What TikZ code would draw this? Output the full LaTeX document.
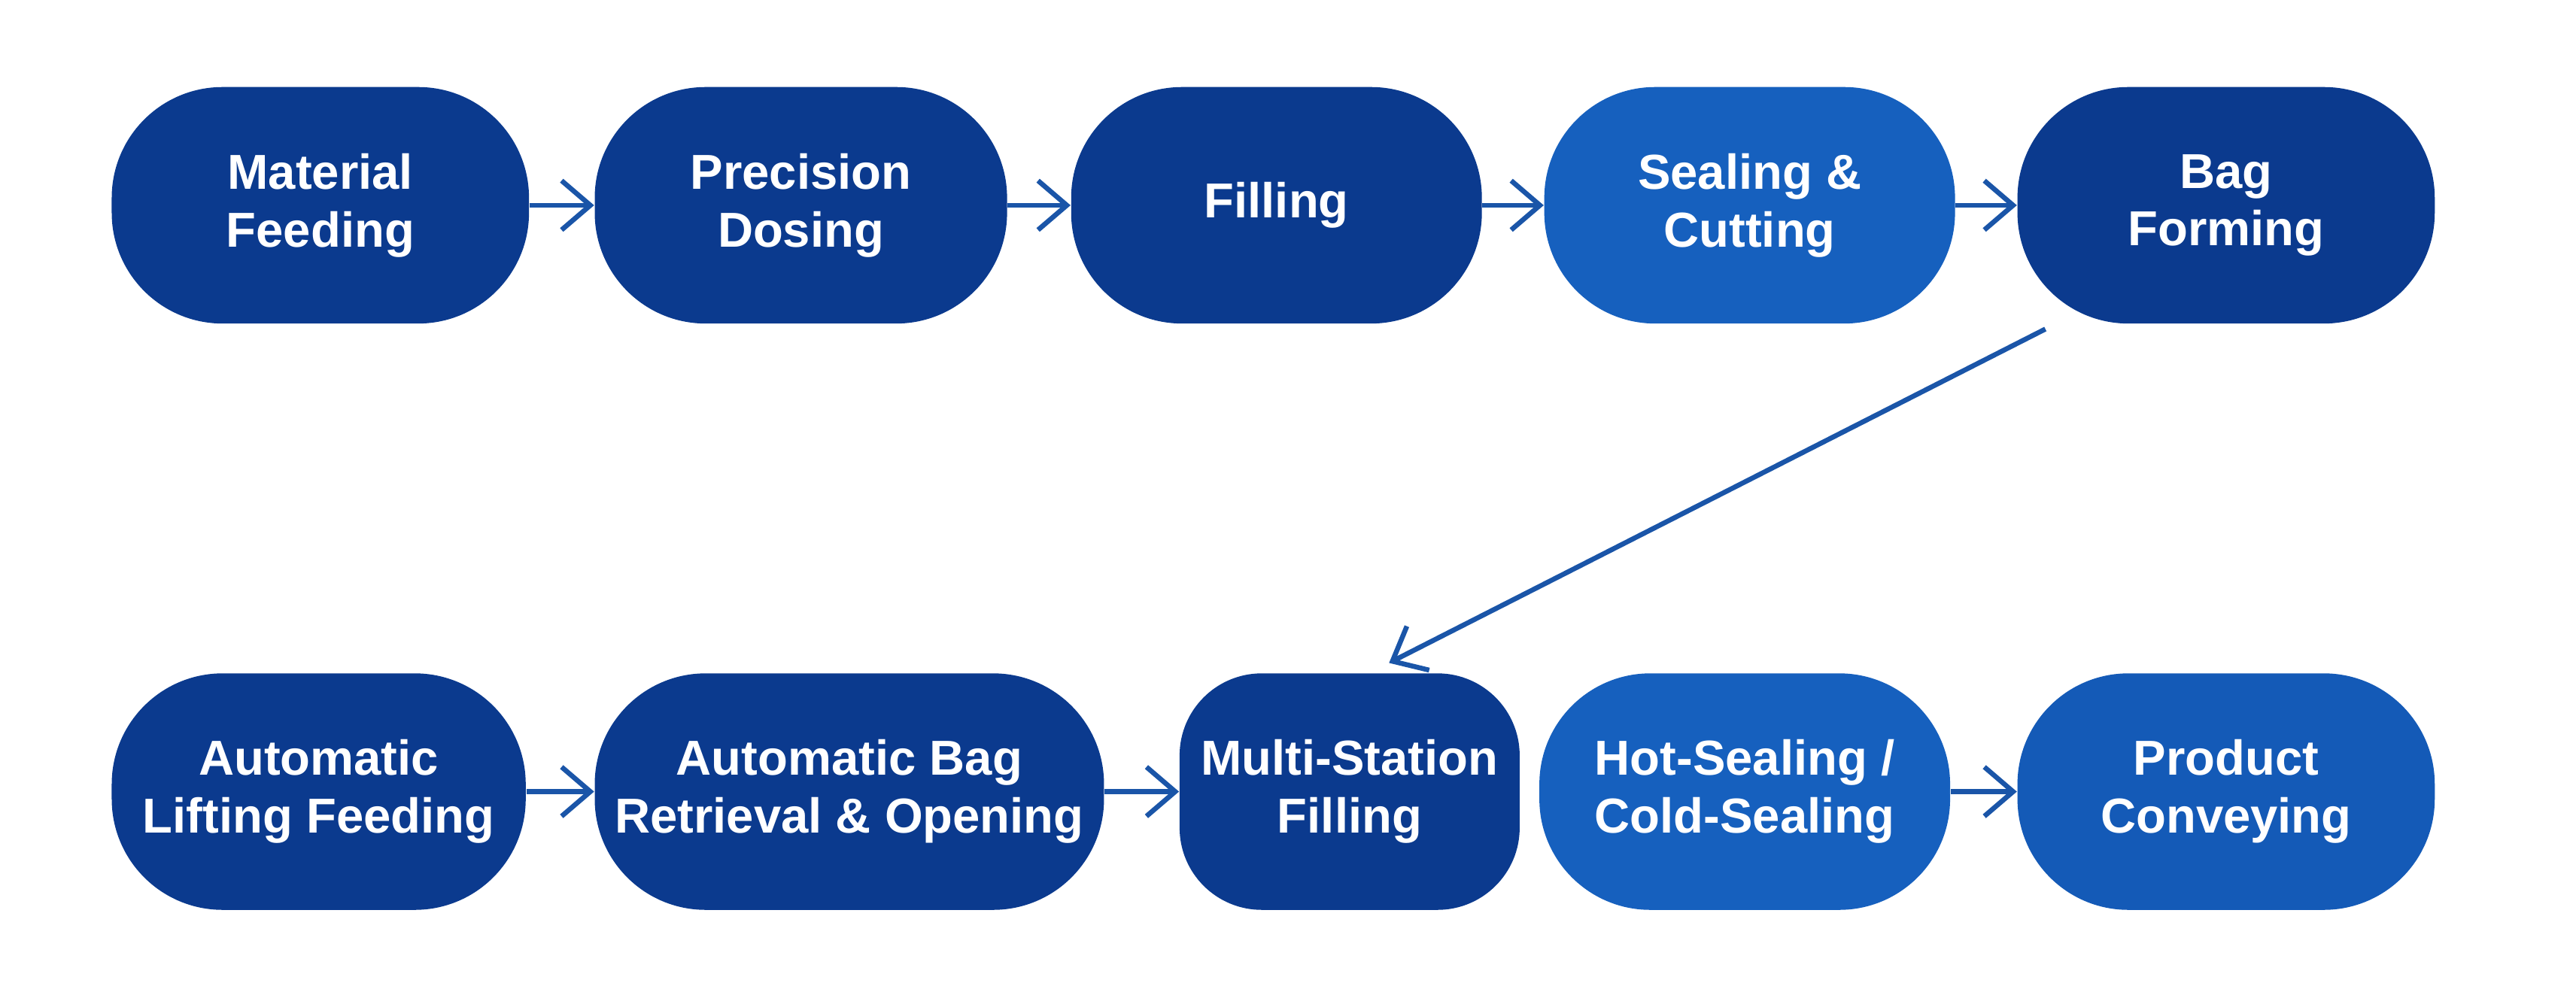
\documentclass[tikz,border=0pt]{standalone}
\usepackage{fontspec}
\setmainfont{Liberation Sans}
\usetikzlibrary{arrows.meta,calc}

\definecolor{azulOsc}{HTML}{0B3A8E}
\definecolor{azulCla}{HTML}{1660BE}
\definecolor{azulFle}{HTML}{1A55A8}

\tikzset{
  paso/.style={draw=none, fill=azulOsc, text=white, font=\bfseries\fontsize{17}{20}\selectfont,
               align=center, minimum height=2.88cm, rounded corners=1.35cm, inner sep=0pt},
  flecha/.style={-{Straight Barb[length=3.5mm,width=6mm]}, line width=.6mm, azulFle}
}

\begin{document}
\begin{tikzpicture}
\useasboundingbox[fill=white] (0,0) rectangle (31.36,12);

%%%%%%%%%%%%%%%%%%%%%%%%%%%%%%%%%%%%%%%%%%%%%%%% 	FILA DE ARRIBA
\node[paso, minimum width=5.08cm] (feed) at (3.90,9.5) {Material\\Feeding};
\node[paso, minimum width=5.02cm] (dose) at (9.75,9.5) {Precision\\Dosing};
\node[paso, minimum width=5.00cm] (fill) at (15.54,9.5) {Filling};
\node[paso, minimum width=5.00cm, fill=azulCla] (seal) at (21.30,9.5) {Sealing \&\\Cutting};
\node[paso, minimum width=5.08cm] (bag) at (27.10,9.5) {Bag\\Forming};

%%%%%%%%%%%%%%%%%%%%%%%%%%%%%%%%%%%%%%%%%%%%%%%% 	FILA DE ABAJO
\node[paso, minimum width=5.04cm] (lift) at (3.88,2.36) {Automatic\\Lifting Feeding};
\node[paso, minimum width=6.20cm] (open) at (10.34,2.36) {Automatic Bag\\Retrieval \& Opening};
\node[paso, minimum width=4.14cm, rounded corners=1cm] (multi) at (16.43,2.36) {Multi-Station\\Filling};
\node[paso, minimum width=5.00cm, fill=azulCla] (hot) at (21.24,2.36) {Hot-Sealing /\\Cold-Sealing};
\node[paso, minimum width=5.08cm, fill=azulCla!85!azulOsc] (conv) at (27.10,2.36) {Product\\Conveying};

%%%%%%%%%%%%%%%%%%%%%%%%%%%%%%%%%%%%%%%%%%%%%%%% 	FLECHAS
\draw[flecha] (feed) -- (dose);
\draw[flecha] (dose) -- (fill);
\draw[flecha] (fill) -- (seal);
\draw[flecha] (seal) -- (bag);
\draw[flecha] (lift) -- (open);
\draw[flecha] (open) -- (multi);
\draw[flecha] (hot) -- (conv);

%%%%	Diagonal de Bag Forming a Multi-Station
\coordinate (salida) at ($(bag.south)+(-2.2,-0.06)$);
\coordinate (llegada) at ($(multi.north)+(0.48,0.12)$);
\draw[flecha] (salida) -- (llegada);

\end{tikzpicture}
\end{document}
